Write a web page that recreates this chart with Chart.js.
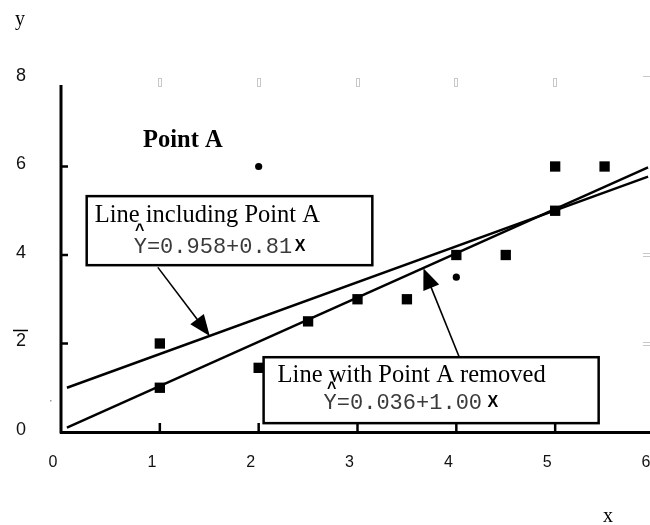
<!DOCTYPE html>
<html>
<head>
<meta charset="utf-8">
<script src="https://cdn.jsdelivr.net/npm/chart.js@4.4.1/dist/chart.umd.min.js"></script>
<style>
html, body { margin: 0; padding: 0; background: #fff; overflow: hidden; }
#wrap { width: 660px; height: 525px; }
</style>
</head>
<body>
<div id="wrap"><canvas id="fitChart" width="660" height="525"></canvas></div>
<script>
// scatter points
const squareX = [1, 1, 2, 2.5, 3, 3.5, 4, 4.5, 5, 5, 5.5];
const squareY = [1, 2, 1.45, 2.5, 3, 3, 4, 4, 5, 6, 6];
const circleX = [2, 4];
const circleY = [6, 3.5];
// fitted lines - end points
const lineX = [0.06, 5.94];
const lineWithA = [1.0, 5.77];
const lineWithoutA = [0.1, 5.98];
// axis ticks
const xTicks = [0, 1, 2, 3, 4, 5, 6];
const yTicks = [0, 2, 4, 6, 8];

const toPoints = (xs, ys) => xs.map((x, i) => ({ x: x, y: ys[i] }));

// boxes / arrows placed in data units
const notes = {
    boxA: { x1: 0.26, y1: 5.33, x2: 3.15, y2: 3.77, title: 'Line including Point A', eq: 'Y=0.958+0.81',
        tx: 8, ty: 26, ex: 47, ey: 57, hx: 53, hy: 39, xx: 208, xy: 55 },
    boxB: { x1: 2.05, y1: 1.69, x2: 5.44, y2: 0.2, title: 'Line with Point A removed', eq: 'Y=0.036+1.00',
        tx: 14, ty: 25, ex: 60, ey: 52, hx: 68, hy: 36, xx: 224, xy: 50 }
};
const arrows = [
    { from: [0.98, 3.72], to: [1.505, 2.17] },
    { from: [4.03, 1.69], to: [3.667, 3.70] }
];

const decor = {
    id: 'decor',
    afterDatasetsDraw(chart) {
        const ctx = chart.ctx;
        const xs = chart.scales.x, ys = chart.scales.y;
        const px = v => xs.getPixelForValue(v), py = v => ys.getPixelForValue(v);
        const area = chart.chartArea;
        ctx.save();

        // y axis line (starts a little below the 8 level)
        ctx.strokeStyle = '#000';
        ctx.lineWidth = 3;
        ctx.beginPath();
        ctx.moveTo(area.left, area.top + 7);
        ctx.lineTo(area.left, area.bottom + 1.5);
        ctx.stroke();

        // inner tick marks
        ctx.lineWidth = 2.5;
        xTicks.slice(1).forEach(v => {
            ctx.beginPath();
            ctx.moveTo(px(v), area.bottom);
            ctx.lineTo(px(v), area.bottom - 9);
            ctx.stroke();
        });
        yTicks.slice(1, -1).forEach(v => {
            ctx.beginPath();
            ctx.moveTo(area.left, py(v));
            ctx.lineTo(area.left + 7, py(v));
            ctx.stroke();
        });

        // faint marks on the top and right
        ctx.strokeStyle = '#c8c8c8';
        ctx.lineWidth = 1;
        xTicks.slice(1, -1).forEach(v => {
            ctx.strokeRect(Math.round(px(v)) - 1.5, area.top + 0.5, 3, 8);
        });
        [8, 4, 2].forEach(v => {
            ctx.beginPath();
            ctx.moveTo(643, Math.round(py(v)) - 1.5);
            ctx.lineTo(652, Math.round(py(v)) - 1.5);
            if (v !== 8) {
                ctx.moveTo(643, Math.round(py(v)) + 1.5);
                ctx.lineTo(652, Math.round(py(v)) + 1.5);
            }
            ctx.stroke();
        });
        ctx.fillStyle = '#999';
        ctx.fillRect(50, 400, 1.5, 1.5);
        ctx.strokeStyle = '#000';
        ctx.lineWidth = 1.5;
        ctx.beginPath();
        ctx.moveTo(13, py(2) - 13);
        ctx.lineTo(28, py(2) - 13);
        ctx.stroke();

        // arrows
        ctx.fillStyle = '#000';
        arrows.forEach(a => {
            const x0 = px(a.from[0]), y0 = py(a.from[1]);
            const x1 = px(a.to[0]), y1 = py(a.to[1]);
            const ang = Math.atan2(y1 - y0, x1 - x0);
            const len = 21, half = 8.5;
            ctx.lineWidth = 1.6;
            ctx.beginPath();
            ctx.moveTo(x0, y0);
            ctx.lineTo(x1 - Math.cos(ang) * len * 0.8, y1 - Math.sin(ang) * len * 0.8);
            ctx.stroke();
            const bx = x1 - Math.cos(ang) * len, by = y1 - Math.sin(ang) * len;
            ctx.beginPath();
            ctx.moveTo(x1, y1);
            ctx.lineTo(bx + Math.sin(ang) * half, by - Math.cos(ang) * half);
            ctx.lineTo(bx - Math.sin(ang) * half, by + Math.cos(ang) * half);
            ctx.closePath();
            ctx.fill();
        });

        // label boxes
        Object.values(notes).forEach(n => {
            const l = px(n.x1), t = py(n.y1), r = px(n.x2), b = py(n.y2);
            ctx.fillStyle = '#fff';
            ctx.fillRect(l, t, r - l, b - t);
            ctx.strokeStyle = '#000';
            ctx.lineWidth = 2.5;
            ctx.strokeRect(l, t, r - l, b - t);
            ctx.fillStyle = '#000';
            ctx.textBaseline = 'alphabetic';
            ctx.textAlign = 'left';
            ctx.font = '24.5px "Liberation Serif", "Times New Roman", serif';
            ctx.fillText(n.title, l + n.tx, t + n.ty);
            ctx.fillStyle = '#3a3a3a';
            ctx.font = '22px "Liberation Mono", "Courier New", monospace';
            ctx.fillText(n.eq, l + n.ex, t + n.ey);
            ctx.fillStyle = '#000';
            ctx.font = 'bold 16px "Liberation Sans", Arial, sans-serif';
            ctx.fillText('X', l + n.xx, t + n.xy);
            ctx.textAlign = 'center';
            ctx.fillText('^', l + n.hx, t + n.hy);
        });

        // Point A label and axis names
        ctx.textAlign = 'left';
        ctx.fillStyle = '#000';
        ctx.font = 'bold 24.5px "Liberation Serif", "Times New Roman", serif';
        ctx.fillText('Point A', 143, 147);
        ctx.font = '20px "Liberation Serif", "Times New Roman", serif';
        ctx.fillText('y', 15, 25);
        ctx.fillText('x', 603, 522);
        ctx.restore();
    }
};

const chart = new Chart(document.getElementById('fitChart'), {
    type: 'scatter',
    data: {
        datasets: [
            {
                label: 'Line including Point A',
                data: toPoints(lineX, lineWithA),
                showLine: true,
                borderColor: '#000',
                borderWidth: 2.4,
                pointRadius: 0
            },
            {
                label: 'Line with Point A removed',
                data: toPoints(lineX, lineWithoutA),
                showLine: true,
                borderColor: '#000',
                borderWidth: 2.4,
                pointRadius: 0
            },
            {
                label: 'squares',
                data: toPoints(squareX, squareY),
                pointStyle: 'rect',
                pointRadius: 7.3,
                backgroundColor: '#000',
                borderColor: '#000',
                borderWidth: 0
            },
            {
                label: 'circles',
                data: toPoints(circleX, circleY),
                pointStyle: 'circle',
                pointRadius: 3.6,
                backgroundColor: '#000',
                borderColor: '#000',
                borderWidth: 0
            }
        ]
    },
    options: {
        responsive: false,
        animation: false,
        events: [],
        layout: { autoPadding: false, padding: { top: 78, right: 6, left: 0, bottom: 0 } },
        plugins: {
            legend: { display: false },
            tooltip: { enabled: false }
        },
        scales: {
            x: {
                type: 'linear',
                min: 0,
                max: 6,
                afterFit: s => { s.height = 93; s.paddingLeft = 0; s.paddingRight = 0; },
                afterBuildTicks: s => { s.ticks = xTicks.map(v => ({ value: v })); },
                grid: { display: false, drawTicks: false },
                border: { display: true, color: '#000', width: 3 },
                ticks: {
                    padding: 21,
                    labelOffset: -8,
                    maxRotation: 0,
                    color: '#111',
                    font: { family: '"Liberation Sans", Arial, sans-serif', size: 16 }
                }
            },
            y: {
                type: 'linear',
                min: 0,
                max: 8,
                afterFit: s => { s.width = 61; s.paddingTop = 0; s.paddingBottom = 0; },
                afterBuildTicks: s => { s.ticks = yTicks.map(v => ({ value: v })); },
                grid: { display: false, drawTicks: false },
                border: { display: false },
                ticks: {
                    padding: 35,
                    labelOffset: -2,
                    color: '#111',
                    font: { family: '"Liberation Sans", Arial, sans-serif', size: 18 }
                }
            }
        }
    },
    plugins: [decor]
});
</script>
</body>
</html>
